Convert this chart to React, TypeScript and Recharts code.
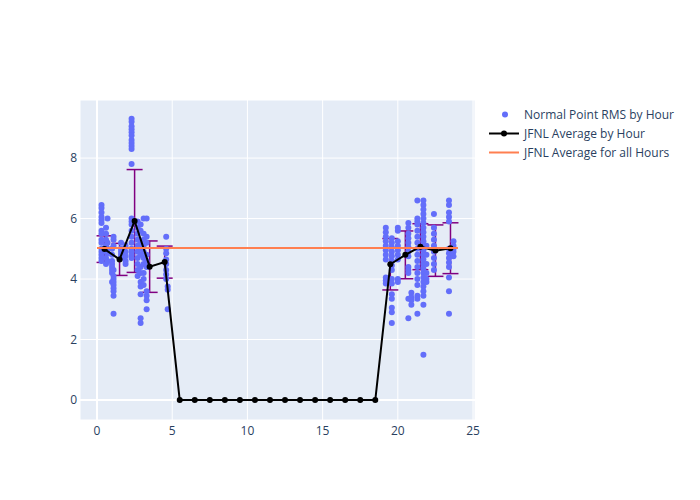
import {
  ComposedChart, Scatter, Line, XAxis, YAxis, CartesianGrid,
  ErrorBar, ReferenceLine
} from 'recharts'

// hourly averages (x at mid-hour)
const hourX = [0.5, 1.5, 2.5, 3.5, 4.5, 5.5, 6.5, 7.5, 8.5, 9.5, 10.5, 11.5, 12.5, 13.5, 14.5, 15.5, 16.5, 17.5, 18.5, 19.5, 20.5, 21.5, 22.5, 23.5]
const hourAvg = [4.99, 4.65, 5.92, 4.41, 4.56, 0, 0, 0, 0, 0, 0, 0, 0, 0, 0, 0, 0, 0, 0, 4.49, 4.8, 5.07, 4.94, 5.02]
const hourErr = [0.44, 0.53, 1.7, 0.85, 0.53, 0, 0, 0, 0, 0, 0, 0, 0, 0, 0, 0, 0, 0, 0, 0.85, 0.79, 0.76, 0.85, 0.84]

const overallAvg = 5.03
const overallX = [0, 24]

// normal point RMS, grouped by time-of-day column
const rmsColumns: [number, number[]][] = [
  [0.3, [6.45, 6.35, 6.2, 6.05, 5.95, 5.85, 5.6, 5.5, 5.3, 5.2, 5.0, 4.9, 4.8, 4.7, 4.6]],
  [0.6, [5.7, 5.5, 5.3, 5.1, 4.9, 4.7, 4.5]],
  [0.7, [6.0, 5.2, 5.0, 4.85, 4.6]],
  [1.0, [5.0, 4.8, 4.6, 4.5, 4.4, 4.3, 4.2, 3.9]],
  [1.1, [5.4, 5.3, 5.1, 4.3, 4.1, 4.0, 3.9, 3.8, 3.7, 3.6, 3.45, 2.85]],
  [1.6, [5.2, 5.0, 4.9, 4.8, 4.7]],
  [1.9, [5.1, 4.9, 4.75, 4.6, 4.5]],
  [2.3, [9.3, 9.2, 9.05, 8.95, 8.85, 8.75, 8.6, 8.5, 8.4, 8.3, 7.8, 6.0, 5.9, 5.8, 5.6, 5.4, 5.2, 5.0, 4.9, 4.8, 4.7]],
  [2.7, [5.9, 5.7, 5.5, 5.3, 5.1, 4.9, 4.7, 4.5, 4.3, 4.1]],
  [2.9, [5.8, 5.6, 5.2, 5.0, 4.8, 4.4, 4.2, 3.9, 3.75, 3.5, 2.7, 2.55]],
  [3.1, [6.0, 5.5, 5.3, 5.1, 4.9, 4.7, 4.5, 4.2, 4.0, 3.8]],
  [3.3, [6.0, 5.4, 5.2, 4.8, 4.6, 4.4, 3.6, 3.45, 3.3, 3.0]],
  [4.6, [5.4, 5.0, 4.85, 4.65, 4.5, 4.3, 4.15, 4.0]],
  [4.7, [3.75, 3.65, 3.0]],
  [19.2, [5.7, 5.55, 5.4, 5.25, 5.1, 4.95, 4.8, 4.65, 4.05, 3.95, 3.85]],
  [19.6, [5.35, 5.2, 5.05, 4.9, 4.75, 4.6, 4.45, 4.3, 4.0, 3.85, 3.5, 3.35, 3.05, 2.9, 2.55]],
  [20.0, [5.7, 5.6, 5.25, 5.1, 4.95, 4.8, 4.65, 4.0, 3.9]],
  [20.7, [5.85, 5.7, 5.5, 5.35, 5.2, 5.05, 4.9, 4.75, 4.4, 4.3, 4.2, 3.35, 2.7]],
  [20.9, [3.55, 3.4, 3.3, 3.15]],
  [21.3, [6.6, 6.0, 5.9, 5.8, 5.6, 5.4, 5.2, 5.0, 4.8, 4.6, 4.4, 4.2, 4.0, 3.8, 3.45, 3.35, 2.85]],
  [21.7, [6.6, 6.45, 6.3, 6.15, 6.0, 5.85, 5.7, 5.55, 5.4, 5.25, 5.1, 4.95, 4.8, 4.65, 4.5, 4.35, 4.2, 4.05, 3.9, 3.75, 3.6, 3.45, 3.15, 1.5]],
  [21.9, [5.1, 4.8, 4.5, 4.2, 4.0, 3.9]],
  [22.4, [6.15, 5.7, 5.5, 5.3, 5.1, 4.9, 4.7, 4.5, 4.3]],
  [23.4, [6.6, 6.45, 6.2, 6.05, 5.9, 5.0, 4.85, 4.7, 4.55, 4.4, 4.05, 3.6, 2.85]],
  [23.7, [5.25, 5.1, 5.0, 4.9, 4.75]],
]

const xTicks = [0, 5, 10, 15, 20, 25]
const yTicks = [0, 2, 4, 6, 8]

const rmsData = rmsColumns.flatMap(([x, ys]) => ys.map(y => ({ x, y })))
const avgData = hourX.map((x, i) => ({ x, y: hourAvg[i], err: hourErr[i] }))
const overallData = overallX.map(x => ({ x, y: overallAvg }))

const font = '"Open Sans", verdana, arial, sans-serif'
const textColor = '#2a3f5f'

const Dot = (props: any) => <circle cx={props.cx} cy={props.cy} r={3} fill="#636efa" />

function LegendBox() {
  const row = { display: 'flex', alignItems: 'center', height: 19 }
  return (
    <div style={{
      position: 'absolute', left: 485, top: 105,
      fontFamily: font, fontSize: 12, color: textColor, whiteSpace: 'nowrap'
    }}>
      <div style={row}>
        <svg width={36} height={19}><circle cx={20} cy={9.5} r={3} fill="#636efa" /></svg>
        <span style={{ marginLeft: 3 }}>Normal Point RMS by Hour</span>
      </div>
      <div style={row}>
        <svg width={36} height={19}>
          <line x1={4} x2={34} y1={9.5} y2={9.5} stroke="#000" strokeWidth={2} />
          <circle cx={19} cy={9.5} r={3} fill="#000" />
        </svg>
        <span style={{ marginLeft: 3 }}>JFNL Average by Hour</span>
      </div>
      <div style={row}>
        <svg width={36} height={19}>
          <line x1={4} x2={34} y1={9.5} y2={9.5} stroke="#ff7f50" strokeWidth={2} />
        </svg>
        <span style={{ marginLeft: 3 }}>JFNL Average for all Hours</span>
      </div>
    </div>
  )
}

export default function App() {
  return (
    <div style={{ position: 'absolute', left: 0, top: 0, width: 700, height: 500, background: '#fff' }}>
      <ComposedChart width={700} height={500} margin={{ top: 100, right: 225, bottom: 50, left: 50 }}>
        <CartesianGrid fill="#E5ECF6" stroke="#fff" strokeWidth={1} />
        <XAxis
          type="number" dataKey="x" domain={[-1.13, 25.13]} ticks={xTicks}
          allowDataOverflow axisLine={false} tickLine={false} tickSize={0} height={30}
          tick={{ fill: textColor, fontSize: 12, fontFamily: font }} tickMargin={6}
        />
        <YAxis
          type="number" dataKey="y" domain={[-0.66, 9.92]} ticks={yTicks}
          allowDataOverflow axisLine={false} tickLine={false} tickSize={0} width={30}
          tick={{ fill: textColor, fontSize: 12, fontFamily: font }} tickMargin={3}
        />
        <ReferenceLine x={0} stroke="#fff" strokeWidth={2} />
        <ReferenceLine y={0} stroke="#fff" strokeWidth={2} />
        <Scatter data={rmsData} dataKey="y" shape={Dot} isAnimationActive={false} />
        <Line
          data={avgData} dataKey="y" stroke="#000" strokeWidth={2} zIndex={700}
          dot={{ r: 3, fill: '#000', stroke: '#000', strokeWidth: 0 }} isAnimationActive={false}
        >
          <ErrorBar dataKey="err" width={8} stroke="#800080" strokeWidth={1.5} direction="y" />
        </Line>
        <Line
          data={overallData} dataKey="y" stroke="#ff7f50" strokeWidth={2} zIndex={800}
          dot={false} isAnimationActive={false}
        />
      </ComposedChart>
      <LegendBox />
    </div>
  )
}
